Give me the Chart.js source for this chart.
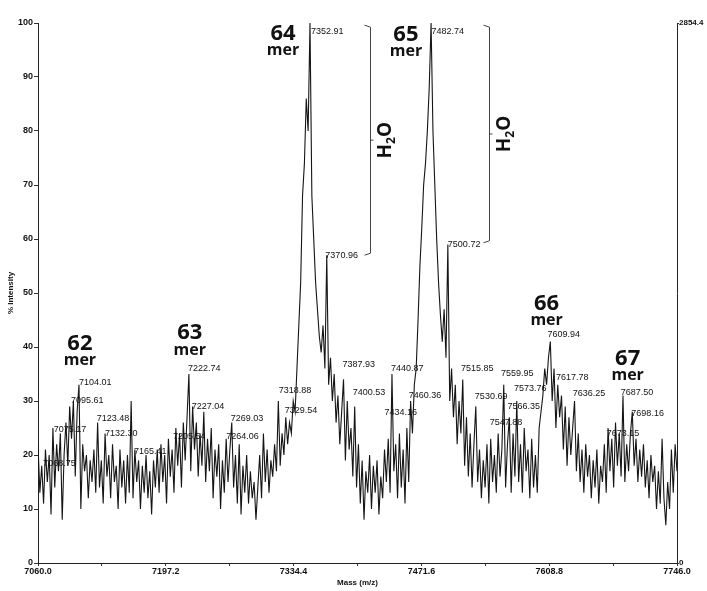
<!DOCTYPE html>
<html>
<head>
<meta charset="utf-8">
<script src="https://cdn.jsdelivr.net/npm/chart.js@4.4.1/dist/chart.umd.min.js"></script>
<style>
  body { margin: 0; background: #fff; }
  #chart { display: block; }
</style>
</head>
<body>
<canvas id="chart" width="707" height="591"></canvas>
<script>
// spectrum sampled every 2 Da starting at 7060
const massStart = 7060;
const massStep = 2;
const intensity = [
  22, 13, 18, 11, 21, 15, 20, 9, 25, 14,
  22, 17, 24, 8, 20, 26, 18, 29, 23, 30,
  16, 28, 33, 10, 22, 17, 20, 12, 19, 15,
  21, 13, 26, 14, 19, 11, 24, 16, 20, 12,
  22, 15, 18, 10, 21, 14, 19, 11, 20, 13,
  30, 12, 21, 15, 19, 10, 18, 13, 20, 12,
  17, 9, 19, 14, 21, 13, 22, 15, 20, 11,
  23, 16, 21, 13, 25, 18, 24, 14, 26, 19,
  27, 35, 17, 29, 21, 26, 16, 24, 18, 28,
  15, 23, 17, 25, 12, 21, 16, 22, 10, 19,
  13, 23, 15, 21, 26, 14, 20, 11, 22, 9,
  18, 13, 20, 11, 17, 12, 15, 8, 14, 20,
  12, 24, 15, 21, 13, 19, 16, 22, 17, 30,
  18, 24, 20, 27, 22, 26, 24, 30, 28, 36,
  44, 52, 68, 74, 86, 80, 100, 68, 60, 52,
  47, 42, 39, 44, 36, 57, 33, 38, 30, 35,
  26, 31, 22, 28, 34, 19, 30, 21, 25, 16,
  29, 14, 22, 11, 19, 8, 17, 13, 20, 10,
  18, 13, 19, 9, 16, 12, 21, 15, 23, 13,
  35, 17, 22, 12, 24, 14, 21, 11, 25, 15,
  30, 24, 33, 36, 45, 55, 62, 70, 74, 80,
  88, 100, 80, 70, 60, 52, 46, 41, 47, 38,
  59, 30, 36, 27, 33, 22, 30, 24, 34, 18,
  27, 16, 24, 14, 22, 29, 15, 21, 12, 19,
  14, 22, 11, 23, 15, 20, 13, 24, 16, 21,
  33, 14, 22, 27, 13, 24, 16, 30, 15, 22,
  13, 25, 17, 21, 12, 23, 14, 20, 13, 25,
  28, 31, 36, 33, 38, 41, 30, 36, 25, 33,
  27, 31, 21, 29, 18, 27, 20, 25, 30, 17,
  24, 15, 21, 13, 22, 16, 20, 12, 19, 14,
  21, 11, 18, 15, 22, 13, 25, 17, 23, 14,
  26, 18, 24, 16, 31, 15, 22, 17, 24, 28,
  18, 23, 15, 21, 16, 22, 14, 19, 12, 20,
  15, 18, 10, 17, 11, 23, 12, 7, 15, 10,
  21, 13, 22, 17
];

// axis ticks
const massTicks = [7060.0, 7197.2, 7334.4, 7471.6, 7608.8, 7746.0];
const massMinorTicks = [7128.6, 7265.8, 7403.0, 7540.2, 7677.4];
const countTicks = [0, 2854.4];

// peak labels
const peakLabels = ["7068.75", "7075.17", "7095.61", "7104.01", "7123.48", "7132.30", "7165.41",
  "7205.54", "7222.74", "7227.04", "7264.06", "7269.03", "7318.88", "7329.54", "7352.91",
  "7370.96", "7387.93", "7400.53", "7434.16", "7440.87", "7460.36", "7482.74", "7500.72",
  "7515.85", "7530.69", "7547.88", "7559.95", "7566.35", "7573.76", "7609.94", "7617.78",
  "7636.25", "7673.15", "7687.50", "7698.16"];
const labelMass = [7065.5, 7077, 7095.5, 7104, 7123, 7132, 7163,
  7205, 7221, 7225, 7262, 7267, 7318.5, 7325, 7353,
  7368.5, 7387, 7398, 7432, 7439, 7458, 7482.5, 7500,
  7514, 7529, 7545, 7557, 7564, 7571, 7607, 7616,
  7634, 7670.5, 7685.5, 7697];
const labelLevel = [18.5, 24.8, 30, 33.5, 26.7, 23.9, 20.7,
  23.5, 36, 29, 23.5, 26.7, 32, 28.3, 98.5,
  57, 36.7, 31.5, 27.8, 36, 31, 98.5, 59,
  36, 30.8, 26, 35, 29, 32.4, 42.4, 34.4,
  31.3, 24, 31.5, 27.6];

// oligomer labels
const merNames = ["62", "63", "64", "65", "66", "67"];
const merMass = [7105, 7223, 7323, 7455, 7606, 7693];
const merLevel = [40.6, 42.6, 98, 97.8, 48.1, 37.8];

// water-loss brackets
const bracketMass = [7416, 7544];
const bracketTop = [99.6, 99.6];
const bracketBottom = [57, 59.3];

const points = intensity.map((v, i) => ({ x: massStart + i * massStep, y: v }));

Chart.defaults.font.family = '"Liberation Sans", Arial, sans-serif';
Chart.defaults.color = '#111';

const annotate = {
  id: 'annotate',
  afterDatasetsDraw(chart) {
    const ctx = chart.ctx;
    const x = chart.scales.x;
    const y = chart.scales.y;
    ctx.save();
    ctx.fillStyle = '#111';

    // peak masses
    ctx.font = '9px "Liberation Sans", Arial';
    ctx.textAlign = 'left';
    ctx.textBaseline = 'middle';
    peakLabels.forEach((t, i) => {
      ctx.fillText(t, x.getPixelForValue(labelMass[i]), y.getPixelForValue(labelLevel[i]));
    });

    // n-mer labels
    ctx.textAlign = 'center';
    merNames.forEach((n, i) => {
      const px = x.getPixelForValue(merMass[i]);
      const py = y.getPixelForValue(merLevel[i]);
      ctx.font = 'bold 22px "Open Sans", sans-serif';
      ctx.fillText(n, px, py);
      ctx.font = 'bold 16px "Open Sans", sans-serif';
      ctx.fillText('mer', px, py + 17);
    });

    // brackets + H2O
    ctx.strokeStyle = '#444';
    ctx.lineWidth = 1;
    bracketMass.forEach((m, i) => {
      const bx = Math.round(x.getPixelForValue(m)) + 0.5;
      const top = y.getPixelForValue(bracketTop[i]);
      const bot = y.getPixelForValue(bracketBottom[i]);
      const mid = (top + bot) / 2;
      ctx.beginPath();
      ctx.moveTo(bx - 6, top);
      ctx.lineTo(bx, top + 2);
      ctx.lineTo(bx, bot - 2);
      ctx.lineTo(bx - 6, bot);
      ctx.moveTo(bx, mid);
      ctx.lineTo(bx + 3, mid);
      ctx.stroke();

      ctx.save();
      ctx.translate(bx + 13, mid);
      ctx.rotate(-Math.PI / 2);
      ctx.textAlign = 'left';
      ctx.textBaseline = 'alphabetic';
      ctx.font = 'bold 19px "Open Sans", sans-serif';
      const wH = ctx.measureText('H').width;
      const wO = ctx.measureText('O').width;
      ctx.font = 'bold 12px "Open Sans", sans-serif';
      const w2 = ctx.measureText('2').width;
      const start = -(wH + w2 + wO) / 2;
      ctx.font = 'bold 19px "Open Sans", sans-serif';
      ctx.fillText('H', start, 7);
      ctx.font = 'bold 12px "Open Sans", sans-serif';
      ctx.fillText('2', start + wH, 11);
      ctx.font = 'bold 19px "Open Sans", sans-serif';
      ctx.fillText('O', start + wH + w2, 7);
      ctx.restore();
    });
    ctx.restore();
  }
};

const config = {
  type: 'line',
  data: {
    datasets: [{
      data: points,
      borderColor: '#151515',
      borderWidth: 1.1,
      pointRadius: 0,
      tension: 0,
      fill: false
    }]
  },
  options: {
    responsive: false,
    animation: false,
    layout: { padding: { top: 23, left: 0, right: 0, bottom: 0 } },
    plugins: { legend: { display: false }, tooltip: { enabled: false } },
    scales: {
      x: {
        type: 'linear',
        min: 7060,
        max: 7746,
        afterFit: (s) => { s.height = 28; },
        afterBuildTicks: (s) => {
          s.ticks = massTicks.concat(massMinorTicks).sort((a, b) => a - b).map(v => ({ value: v }));
        },
        ticks: {
          autoSkip: false,
          maxRotation: 0,
          padding: 0,
          font: { size: 9, weight: 'bold' },
          callback: (v) => massTicks.some(t => Math.abs(t - v) < 0.01) ? v.toFixed(1) : ''
        },
        grid: { display: true, drawOnChartArea: false, tickLength: 3, color: '#333' },
        border: { display: true, color: '#222', width: 1 },
        title: { display: true, text: 'Mass (m/z)', font: { size: 8, weight: 'bold' }, padding: { top: 0, bottom: 3 } }
      },
      y: {
        position: 'left',
        min: 0,
        max: 100,
        afterFit: (s) => { s.width = 38; },
        ticks: { stepSize: 10, padding: 1, font: { size: 9, weight: 'bold' } },
        grid: { display: true, drawOnChartArea: false, tickLength: 4, color: '#333' },
        border: { display: true, color: '#222', width: 1 },
        title: { display: true, text: '% Intensity', font: { size: 8, weight: 'bold' }, padding: { top: 6, bottom: 0 } }
      },
      y2: {
        position: 'right',
        min: 0,
        max: 2854.4,
        afterFit: (s) => { s.width = 30; },
        afterBuildTicks: (s) => { s.ticks = countTicks.map(v => ({ value: v })); },
        ticks: {
          padding: 0,
          font: { size: 8, weight: 'bold' },
          callback: (v) => v === 0 ? '0' : v.toFixed(1)
        },
        grid: { display: true, drawOnChartArea: false, tickLength: 2, color: '#333' },
        border: { display: true, color: '#222', width: 1 }
      }
    }
  },
  plugins: [annotate]
};

const myChart = new Chart(document.getElementById('chart'), config);
</script>
</body>
</html>
